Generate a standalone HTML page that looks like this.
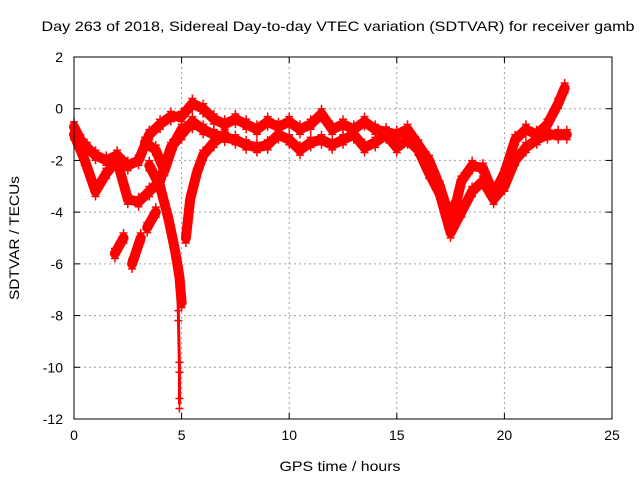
<!DOCTYPE html>
<html><head><meta charset="utf-8"><style>
body{margin:0;background:#fff}
svg{display:block;font-family:"Liberation Sans",sans-serif}
</style></head><body>
<svg id="c" width="640" height="480">
<text x="338" y="31" font-size="14" text-anchor="middle" textLength="593" lengthAdjust="spacingAndGlyphs">Day 263 of 2018, Sidereal Day-to-day VTEC variation (SDTVAR) for receiver gamb</text>
<text x="340" y="471" font-size="14" text-anchor="middle" textLength="121" lengthAdjust="spacingAndGlyphs">GPS time / hours</text>
<text x="19" y="238" font-size="14" text-anchor="middle" textLength="124" lengthAdjust="spacingAndGlyphs" transform="rotate(-90 19 238)">SDTVAR / TECUs</text>
<g id="grid"></g><g id="marks"></g><g id="axes"></g>
</svg>
<script>
const xTicks=[0,5,10,15,20,25];
const yTicks=[2,0,-2,-4,-6,-8,-10,-12];
const trackA=[[0,-0.7],[0.3,-1.2],[0.6,-1.5],[1,-1.8],[1.5,-2],[2,-1.8],[2.5,-2.2],[3,-2],[3.5,-1],[4,-0.6],[4.5,-0.3],[5,-0.3],[5.5,0.2],[6,0],[6.5,-0.4],[7,-0.6],[7.5,-0.4],[8,-0.6],[8.5,-0.8],[9,-0.5],[9.5,-0.7],[10,-0.5],[10.5,-0.8],[11,-0.6],[11.5,-0.2],[12,-0.8],[12.5,-0.6],[13,-0.8],[13.5,-0.5],[14,-0.8],[14.5,-0.9],[15,-1],[15.5,-0.8],[16,-1.4],[16.5,-2],[17,-3],[17.3,-3.8],[17.5,-4.2],[17.8,-3.5],[18,-2.8],[18.5,-2.2],[19,-2.3],[19.5,-3.3],[20,-2.5],[20.5,-1.2],[21,-0.8],[21.5,-1],[22,-0.6],[22.5,0.2],[22.8,0.8]];
const trackB=[[0,-1],[0.5,-2],[1,-3.2],[1.5,-2.5],[2,-2],[2.5,-3.5],[3,-3.6],[3.5,-3.2],[4,-2.8],[4.3,-2],[4.5,-1.5],[5,-1],[5.5,-0.5],[6,-0.8],[6.5,-1],[7,-1.1],[7.5,-1.2],[8,-1.4],[8.5,-1.5],[9,-1.4],[9.5,-1],[10,-1.2],[10.5,-1.6],[11,-1.3],[11.5,-1.2],[12,-1.4],[12.5,-1.2],[13,-1],[13.5,-1.5],[14,-1.3],[14.5,-1],[15,-1.5],[15.5,-1.2],[16,-1.6],[16.5,-2.5],[17,-3.3],[17.5,-4.8],[18,-4],[18.5,-3.2],[19,-2.8],[19.5,-3.5],[20,-3],[20.5,-2],[21,-1.5],[21.5,-1.2],[22,-1],[22.5,-1],[22.9,-1]];
const trackC=[[3.5,-2.2],[4,-3],[4.4,-4.3],[4.7,-5.5],[4.9,-6.5],[5,-7.5]];
const trackSpike=[[4.8,-6],[4.85,-8],[4.9,-10],[4.9,-11.4]];
const trackD=[[5.2,-5],[5.4,-3.5],[5.7,-2.5],[6,-1.8],[6.5,-1.3],[7,-1]];
const trackE=[[3.3,-1.3],[3.8,-1.6],[4.2,-2.4],[4.6,-1.4],[5,-0.8],[5.5,-0.6]];
const seg1=[[1.9,-5.6],[2.3,-5]];
const seg2=[[2.7,-6],[3.1,-5]];
const seg3=[[3.4,-4.6],[3.8,-4]];
const tracks=[trackA,trackB,trackC,trackSpike,trackD,trackE,seg1,seg2,seg3];
const X0=74,X1=612,Y0=57,Y1=419,NS="http://www.w3.org/2000/svg";
const sx=t=>X0+(t-0)/25*(X1-X0);
const sy=v=>Y0+(2-v)/14*(Y1-Y0);
function mk(tag,a,parent){const e=document.createElementNS(NS,tag);for(const k in a)e.setAttribute(k,a[k]);parent.appendChild(e);return e;}
const grid=document.getElementById('grid'),axes=document.getElementById('axes'),marks=document.getElementById('marks');
xTicks.forEach(t=>{
 if(t>0&&t<25){const l=mk('line',{x1:sx(t),x2:sx(t),y1:Y0,y2:Y1,stroke:'#a0a0a0','stroke-dasharray':'2,3'},grid);
 
 }
 const tx=mk('text',{x:sx(t),y:Y1+21,'font-size':14,'text-anchor':'middle'},axes);tx.textContent=t;
 
 
 mk('line',{x1:sx(t),x2:sx(t),y1:Y1,y2:Y1-6,stroke:'#000'},axes);
 mk('line',{x1:sx(t),x2:sx(t),y1:Y0,y2:Y0+6,stroke:'#000'},axes);
});
yTicks.forEach(v=>{
 if(v<2&&v>-12){const l=mk('line',{x1:X0,x2:X1,y1:sy(v),y2:sy(v),stroke:'#a0a0a0','stroke-dasharray':'2,3'},grid);
 
 }
 const tx=mk('text',{x:X0-11,y:sy(v)+5,'font-size':14,'text-anchor':'end'},axes);tx.textContent=v;
 
 
 mk('line',{x1:X0,x2:X0+6,y1:sy(v),y2:sy(v),stroke:'#000'},axes);
 mk('line',{x1:X1,x2:X1-6,y1:sy(v),y2:sy(v),stroke:'#000'},axes);
});
const fr=mk('rect',{x:X0,y:Y0,width:X1-X0,height:Y1-Y0,fill:'none',stroke:'#000'},axes);


tracks.forEach((tr,i)=>{
 const pl=mk('polyline',{points:tr.map(p=>sx(p[0])+','+sy(p[1])).join(' '),fill:'none',stroke:'#f00','stroke-width':(i===3?3:10),'stroke-linejoin':'round','stroke-linecap':'round'},marks);
 
 
 tr.forEach(p=>{
  const x=sx(p[0]),y=sy(p[1]);
  const m=mk('path',{d:`M${x-4},${y-5}h8M${x},${y-9}v8M${x-4},${y+5}h8M${x},${y+1}v8`,stroke:'#f00','stroke-width':1.5},marks);
  
  
 });
});
</script>
</body></html>
